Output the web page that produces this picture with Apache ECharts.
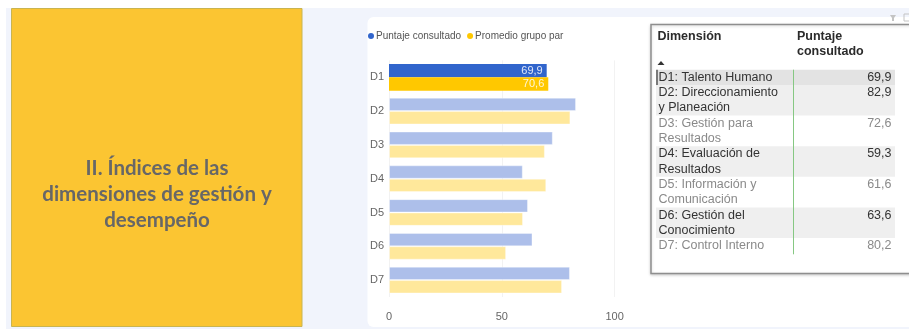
<!DOCTYPE html>
<html>
<head>
<meta charset="utf-8">
<script src="https://cdn.jsdelivr.net/npm/echarts@6/dist/echarts.min.js"></script>
<style>
  html, body { margin: 0; padding: 0; background: #f1f4fc; }
  #c { width: 909px; height: 329px; }
</style>
</head>
<body>
<div id="c"></div>
<script>
// Dimensiones del índice de gestión y desempeño
const dimensiones = ['D1', 'D2', 'D3', 'D4', 'D5', 'D6', 'D7'];
const nombresDimension = [
  'D1: Talento Humano',
  'D2: Direccionamiento y Planeación',
  'D3: Gestión para Resultados',
  'D4: Evaluación de Resultados',
  'D5: Información y Comunicación',
  'D6: Gestión del Conocimiento',
  'D7: Control Interno'
];
const puntajeConsultado = [69.9, 82.9, 72.6, 59.3, 61.6, 63.6, 80.2];
const promedioGrupoPar = [70.6, 80.4, 69.1, 69.7, 59.4, 51.9, 76.7];
const serieNombres = ['Puntaje consultado', 'Promedio grupo par'];
const ejeValores = { min: 0, max: 100, interval: 50 };
const tituloLineas = ['II. Índices de las', 'dimensiones de gestión y', 'desempeño'];
const encabezados = ['Dimensión', 'Puntaje', 'consultado'];
const seleccion = 0; // dimensión resaltada

const FONT = '"Liberation Sans", Arial, sans-serif';
const coma = v => v.toFixed(1).replace('.', ',');

// colores llenos para la dimensión seleccionada, atenuados para el resto
const azul = '#3165cc', azulSuave = '#adbfea';
const amarillo = '#ffc800', amarilloSuave = '#ffe89b';

function serieDatos(vals, fuerte, suave, colorEtiqueta) {
  return vals.map((v, i) => i === seleccion
    ? { value: v, itemStyle: { color: fuerte },
        label: { show: true, position: 'insideRight', distance: 4, color: colorEtiqueta,
                 fontFamily: FONT, fontSize: 11, formatter: p => coma(p.value) } }
    : { value: v, itemStyle: { color: suave, borderColor: 'rgba(255,255,255,0.35)', borderWidth: 1 } });
}

// ---- tabla a la derecha ----
const mctx = document.createElement('canvas').getContext('2d');
function partirTexto(texto, font, maxW) {
  mctx.font = font;
  const palabras = texto.split(' ');
  const lineas = [];
  let cur = '';
  for (const w of palabras) {
    const t = cur ? cur + ' ' + w : w;
    if (mctx.measureText(t).width > maxW && cur) { lineas.push(cur); cur = w; }
    else cur = t;
  }
  lineas.push(cur);
  return lineas;
}

const tablaFont = '12.5px ' + FONT;
const graficos = [];

function texto(x, y, t, opts) {
  graficos.push({
    type: 'text', x: x, y: y, silent: true, z: 5,
    style: Object.assign({ text: t, font: tablaFont, fill: '#333',
      textAlign: 'left', textVerticalAlign: 'middle', align: 'left', verticalAlign: 'middle' }, opts || {})
  });
}

// fondo: franjas blancas, panel amarillo, tarjeta blanca
graficos.push({ type: 'rect', silent: true, z: -10, shape: { x: 0, y: 0, width: 909, height: 8 }, style: { fill: '#ffffff' } });
graficos.push({ type: 'rect', silent: true, z: -10, shape: { x: 0, y: 0, width: 6, height: 329 }, style: { fill: '#ffffff' } });
graficos.push({ type: 'rect', silent: true, z: -10, shape: { x: 11.5, y: 8.5, width: 290.5, height: 318 },
  style: { fill: '#fbc532', stroke: '#c9b450', lineWidth: 1 } });
graficos.push({ type: 'rect', silent: true, z: -10, shape: { x: 367.5, y: 17, width: 600, height: 310, r: 6 }, style: { fill: '#ffffff' } });

tituloLineas.forEach((l, i) => {
  graficos.push({ type: 'text', silent: true, z: 5, x: 157, y: 168 + i * 26,
    style: { text: l, font: 'bold 20.5px Lato, "Open Sans", sans-serif', fill: '#676767',
      textAlign: 'center', textVerticalAlign: 'middle', align: 'center', verticalAlign: 'middle' } });
});

// iconos de la esquina superior
graficos.push({ type: 'polygon', silent: true, z: 5, shape: { points: [[890, 15], [896, 15], [894, 18], [894, 21], [892, 21], [892, 18]] }, style: { fill: '#c4c4c4' } });
graficos.push({ type: 'rect', silent: true, z: 5, shape: { x: 904, y: 14, width: 6, height: 7 }, style: { fill: 'none', stroke: '#c4c4c4', lineWidth: 1 } });

// marco de la tabla
graficos.push({ type: 'rect', silent: true, z: 1, shape: { x: 651, y: 24.5, width: 300, height: 249 },
  style: { fill: '#ffffff', stroke: '#8e8e8e', lineWidth: 1.5, shadowBlur: 3, shadowColor: 'rgba(0,0,0,0.18)', shadowOffsetY: 1 } });

// encabezados
texto(657.5, 37, encabezados[0], { font: 'bold 12.5px ' + FONT, fill: '#2b2b2b' });
texto(797, 37, encabezados[1], { font: 'bold 12.5px ' + FONT, fill: '#2b2b2b' });
texto(797, 52, encabezados[2], { font: 'bold 12.5px ' + FONT, fill: '#2b2b2b' });
graficos.push({ type: 'polygon', silent: true, z: 5, shape: { points: [[657.5, 65], [664.5, 65], [661, 61]] }, style: { fill: '#333' } });

// filas
const LH = 15.3;
let yFila = 69.7;
const yInicio = yFila;
nombresDimension.forEach((nombre, i) => {
  const lineas = partirTexto(nombre, tablaFont, 128);
  const alto = lineas.length * LH;
  let fondo = null;
  if (i === seleccion) fondo = '#e3e3e3';
  else if (i % 2 === 1) fondo = '#efefef';
  if (fondo) {
    graficos.push({ type: 'rect', silent: true, z: 2, shape: { x: 656, y: yFila, width: 239, height: alto }, style: { fill: fondo } });
  }
  const color = (i === seleccion || i % 2 === 1) ? '#333333' : '#8a8a8a';
  lineas.forEach((l, k) => texto(658.5, yFila + LH * (k + 0.5), l, { fill: color }));
  texto(891.5, yFila + LH * 0.5, coma(puntajeConsultado[i]),
    { fill: color, textAlign: 'right', align: 'right' });
  if (i === seleccion) {
    graficos.push({ type: 'line', silent: true, z: 6, shape: { x1: 657, y1: yFila, x2: 657, y2: yFila + alto }, style: { stroke: '#333', lineWidth: 1.2 } });
  }
  yFila += alto;
});
// separador de columnas
graficos.push({ type: 'line', silent: true, z: 6, shape: { x1: 793.5, y1: yInicio, x2: 793.5, y2: yFila + 1 }, style: { stroke: '#86c883', lineWidth: 1 } });

const chart = echarts.init(document.getElementById('c'), null, { renderer: 'canvas' });
chart.setOption({
  backgroundColor: '#f1f4fc',
  animation: false,
  textStyle: { fontFamily: FONT },
  legend: {
    data: serieNombres,
    left: 368, top: 31,
    icon: 'circle', itemWidth: 6, itemHeight: 6, itemGap: 6, padding: 0,
    textStyle: { fontSize: 10, color: '#555', fontFamily: FONT, padding: [0, 0, 0, -3] }
  },
  grid: { left: 389, top: 60.4, width: 225.6, height: 236.6, outerBoundsMode: 'none', containLabel: false },
  xAxis: {
    type: 'value', min: ejeValores.min, max: ejeValores.max, interval: ejeValores.interval,
    axisLine: { show: false }, axisTick: { show: false },
    axisLabel: { color: '#666', fontSize: 11, margin: 14, fontFamily: FONT },
    splitLine: { lineStyle: { color: '#f2f2f2', width: 1 } }
  },
  yAxis: {
    type: 'category', data: dimensiones, inverse: true,
    axisLine: { show: false }, axisTick: { show: false },
    axisLabel: { color: '#666', fontSize: 11, margin: 5, fontFamily: FONT }
  },
  series: [
    { name: serieNombres[0], type: 'bar', color: azul, barGap: '0%', barCategoryGap: '21%',
      data: serieDatos(puntajeConsultado, azul, azulSuave, '#dfe6f8') },
    { name: serieNombres[1], type: 'bar', color: amarillo, barGap: '0%', barCategoryGap: '21%',
      data: serieDatos(promedioGrupoPar, amarillo, amarilloSuave, '#fff6d6') }
  ],
  graphic: { elements: graficos }
});
</script>
</body>
</html>
